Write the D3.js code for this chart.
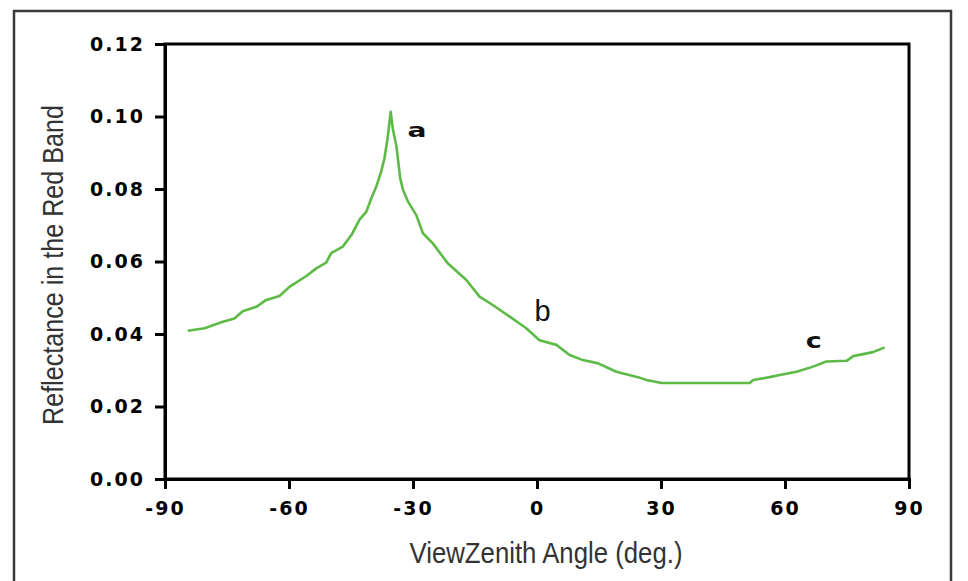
<!DOCTYPE html>
<html>
<head>
<meta charset="utf-8">
<script src="https://cdn.jsdelivr.net/npm/d3@7"></script>
<style>
  body { margin: 0; background: #fff; }
  svg { display: block; }
  .tick text { font-family: "DejaVu Sans", sans-serif; font-weight: bold; font-size: 19px; letter-spacing: 2px; fill: #000; }
  .title { font-family: "Liberation Sans", sans-serif; font-size: 30px; fill: #333; }
</style>
</head>
<body>
<svg id="svg" width="968" height="581"></svg>
<script>
// view zenith angle (deg.) and red band reflectance
var angles = [-84.5, -80.4, -78.4, -76.0, -73.2, -71.2, -67.9, -65.5, -62.3, -59.9,
  -55.8, -53.4, -51.0, -49.8, -47.0, -44.9, -42.9, -41.3, -40.1, -38.9,
  -37.7, -36.9, -36.1, -35.4, -34.9, -34.0, -33.1, -32.4, -31.2, -29.2,
  -27.6, -25.2, -21.6, -17.1, -13.9, -10.7, -6.6, -2.6, 0.6, 4.7,
  7.9, 11.1, 14.8, 19.2, 24.4, 26.5, 30.1, 51.5, 52.3, 56.3,
  58.7, 62.8, 66.8, 70.0, 74.9, 76.5, 81.3, 84.1];
var reflect = [0.0409, 0.0416, 0.0424, 0.0434, 0.0443, 0.0463, 0.0475, 0.0494, 0.0505, 0.0530,
  0.0560, 0.0581, 0.0597, 0.0623, 0.0641, 0.0673, 0.0716, 0.0737, 0.0774, 0.0806,
  0.0848, 0.0885, 0.0944, 0.1013, 0.0967, 0.0917, 0.0830, 0.0797, 0.0765, 0.0728,
  0.0678, 0.0650, 0.0595, 0.0549, 0.0503, 0.0480, 0.0448, 0.0416, 0.0383, 0.0370,
  0.0342, 0.0328, 0.0319, 0.0296, 0.0281, 0.0273, 0.0265, 0.0265, 0.0273, 0.0281,
  0.0287, 0.0296, 0.0310, 0.0324, 0.0326, 0.0339, 0.0350, 0.0363];

var xTicks = [-90, -60, -30, 0, 30, 60, 90];
var yTicks = [0, 0.02, 0.04, 0.06, 0.08, 0.10, 0.12];

// point labels a, b, c and where they sit
var noteText = ["a", "b", "c"];
var noteAngle = [-31.3, -0.6, 65.0];
var noteValue = [0.0943, 0.0436, 0.0361];

var svg = d3.select("#svg");
var mLeft = 165, mRight = 909, mTop = 44, mBottom = 479;

var x = d3.scaleLinear().domain([-90, 90]).range([mLeft, mRight]);
var y = d3.scaleLinear().domain([0, 0.12]).range([mBottom, mTop]);

// outer frame
svg.append("rect")
  .attr("x", 14).attr("y", 11)
  .attr("width", 937).attr("height", 600)
  .attr("fill", "none")
  .attr("stroke", "#3a3a3a")
  .attr("stroke-width", 2.5);

// plot box
svg.append("rect")
  .attr("x", mLeft).attr("y", mTop)
  .attr("width", mRight - mLeft).attr("height", mBottom - mTop)
  .attr("fill", "none")
  .attr("stroke", "#000")
  .attr("stroke-width", 3);

var yAxis = svg.append("g")
  .attr("transform", "translate(" + mLeft + ",0)")
  .call(d3.axisLeft(y).tickValues(yTicks).tickSize(10).tickPadding(10)
    .tickFormat(function(d) { return d.toFixed(2); }));
var xAxis = svg.append("g")
  .attr("transform", "translate(0," + mBottom + ")")
  .call(d3.axisBottom(x).tickValues(xTicks).tickSize(10).tickPadding(12)
    .tickFormat(function(d) { return String(d); }));

[xAxis, yAxis].forEach(function(g) {
  g.select(".domain").attr("stroke", "#000").attr("stroke-width", 3);
  g.selectAll(".tick line").attr("stroke", "#000").attr("stroke-width", 3);
});
xAxis.selectAll(".tick text").attr("dy", "0.72em");

// the curve
var pts = angles.map(function(a, i) { return [a, reflect[i]]; });
svg.append("path")
  .datum(pts)
  .attr("fill", "none")
  .attr("stroke", "#5dba47")
  .attr("stroke-width", 2.6)
  .attr("stroke-linejoin", "round")
  .attr("d", d3.line().x(function(d) { return x(d[0]); }).y(function(d) { return y(d[1]); }));

// labels on the curve
var noteStyle = [
  { size: 19, weight: "bold", family: "DejaVu Sans", len: 19 },
  { size: 29, weight: "normal", family: "Liberation Sans", len: 0 },
  { size: 22, weight: "bold", family: "DejaVu Sans", len: 16 }
];
noteText.forEach(function(t, i) {
  var s = noteStyle[i];
  var el = svg.append("text")
    .attr("x", x(noteAngle[i]))
    .attr("y", y(noteValue[i]))
    .attr("font-family", s.family)
    .attr("font-size", s.size)
    .attr("font-weight", s.weight)
    .attr("fill", "#111")
    .text(t);
  if (s.len) el.attr("textLength", s.len).attr("lengthAdjust", "spacingAndGlyphs");
});

// axis titles, squeezed to the narrow face of the original
svg.append("text")
  .attr("class", "title")
  .attr("text-anchor", "middle")
  .attr("transform", "translate(63,265) rotate(-90)")
  .attr("textLength", 320)
  .attr("lengthAdjust", "spacingAndGlyphs")
  .text("Reflectance in the Red Band");
svg.append("text")
  .attr("class", "title")
  .attr("text-anchor", "middle")
  .attr("x", 546)
  .attr("y", 563)
  .attr("textLength", 273)
  .attr("lengthAdjust", "spacingAndGlyphs")
  .text("ViewZenith Angle (deg.)");
</script>
</body>
</html>
